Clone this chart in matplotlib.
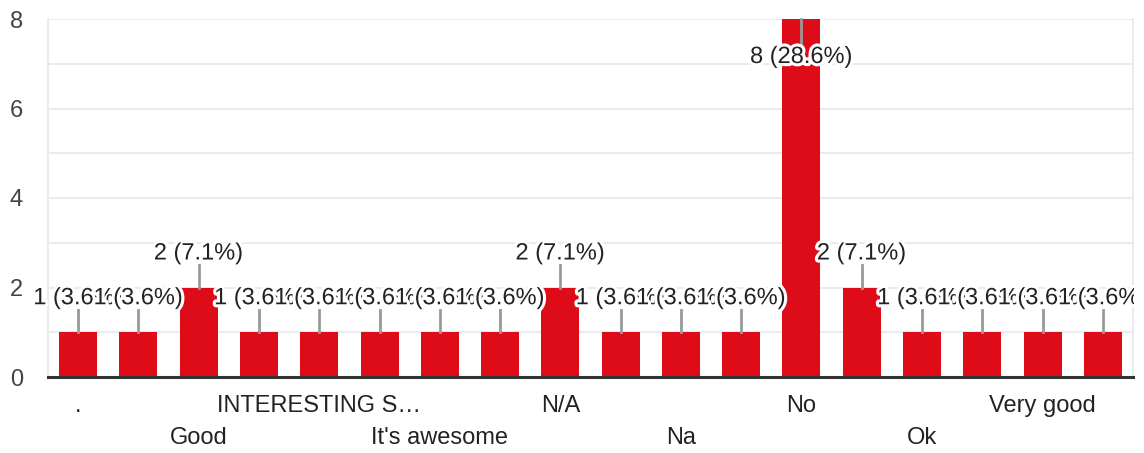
import matplotlib
matplotlib.use("Agg")
from matplotlib import pyplot as plt
import matplotlib.patheffects as pe
from matplotlib.patches import Rectangle

# answers (alphabetical as in the form); "" = label hidden in the chart
categories = [".", "", "Good", "", "INTERESTING S…", "", "It's awesome", "",
              "N/A", "", "Na", "", "No", "", "Ok", "", "Very good", ""]
counts = [1, 1, 2, 1, 1, 1, 1, 1, 2, 1, 1, 1, 8, 2, 1, 1, 1, 1]
yticks = [0, 2, 4, 6, 8]

total = sum(counts)
plt.rcParams['font.family'] = ['Liberation Sans', 'DejaVu Sans']
fs = 17

fig = plt.figure(figsize=(11.44, 4.53), dpi=100)
ax = fig.add_axes([48/1144, 76/453, 1085/1144, 358/453])

x = list(range(len(counts)))
ax.bar(x, counts, width=0.63, color='#dd0c18', zorder=2)

ax.set_xlim(-0.5, len(counts) - 0.5)
ax.set_ylim(0, 8)
ax.set_yticks(yticks)
ax.set_yticks(range(9), minor=True)
ax.grid(True, axis='y', which='both', color='#ebebeb', lw=1.5, zorder=0)
ax.tick_params(axis='y', which='both', length=0, pad=18, labelsize=fs, labelcolor='#444444')
ax.set_xticks([])
for s in ['top', 'bottom']:
    ax.spines[s].set_visible(False)
for s in ['left', 'right']:
    ax.spines[s].set_color('#ebebeb')
    ax.spines[s].set_linewidth(1.5)
ax.axhline(0, color='#333333', lw=2.2, zorder=4, clip_on=False)

# value labels get cut at the right edge of the plot, like the original
clip = Rectangle((0, 0), 1134/1144, 1, transform=fig.transFigure, visible=False)
fig.add_artist(clip)

halo = [pe.withStroke(linewidth=4.5, foreground='white')]
for i, c in enumerate(counts):
    txt = f"{c} ({c / total * 100:.1f}%)"
    if c >= 8:
        ax.plot([i, i], [c, c - 0.58], color='#999999', lw=2, zorder=5, clip_on=False)
        ty = c - 0.85
    else:
        ax.plot([i, i], [c, c + 0.5], color='#999999', lw=2, zorder=5, clip_on=False)
        ty = c + 0.76
    t = ax.text(i, ty, txt, ha='center', va='center', fontsize=fs, color='#222222',
                path_effects=halo, zorder=6 + i)
    t.set_clip_path(clip)
    t.set_clip_on(True)

# category labels, staggered on two rows
for i, lab in enumerate(categories):
    if not lab:
        continue
    off = -21 if (i // 2) % 2 == 0 else -44
    ax.annotate(lab, xy=(i, 0), xytext=(0, off), textcoords='offset points',
                ha='center', va='center', fontsize=fs, color='#222222',
                annotation_clip=False)

fig.savefig('out.png', dpi=100)
